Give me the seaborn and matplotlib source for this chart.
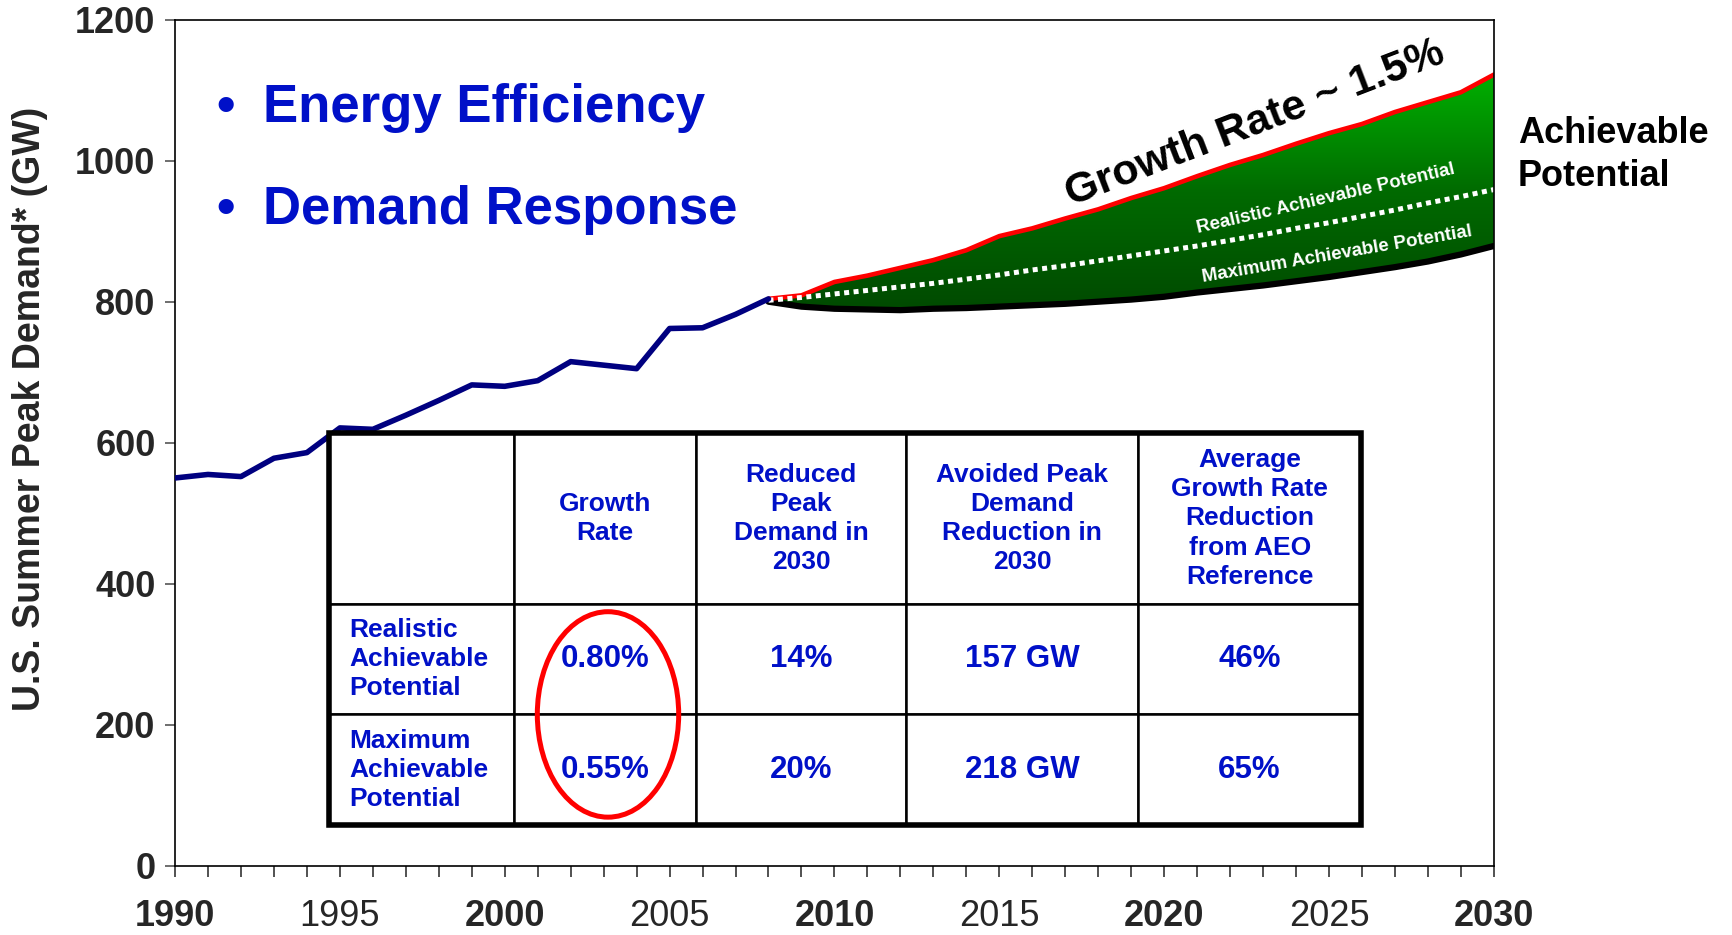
import numpy as np
import pandas as pd
import matplotlib
matplotlib.use('Agg')
import matplotlib.pyplot as plt
import seaborn as sns
from matplotlib.colors import LinearSegmentedColormap
from matplotlib.patches import Ellipse, Rectangle
from matplotlib.ticker import MultipleLocator

# ---------------- data ----------------
hist_years = list(range(1990, 2009))
hist_demand = [550, 555, 552, 578, 586, 621, 619, 639, 660, 682, 680, 688,
               715, 710, 705, 762, 763, 782, 804]

proj_years = list(range(2008, 2031))
reference_demand = [804, 809, 828, 837, 848, 859, 873, 893, 904, 918, 931, 947,
                    961, 978, 994, 1008, 1024, 1039, 1052, 1069, 1083, 1097, 1122]
realistic_demand = [802, 806, 811, 816, 821, 826, 832, 838, 845, 851, 858, 865,
                    872, 879, 887, 895, 904, 912, 921, 930, 940, 949, 959]
maximum_demand = [800, 793, 790, 789, 788, 790, 791, 793, 795, 797, 800, 803,
                  807, 813, 818, 823, 829, 835, 842, 849, 857, 867, 879]

y_ticks = [0, 200, 400, 600, 800, 1000, 1200]
x_ticks = [1990, 1995, 2000, 2005, 2010, 2015, 2020, 2025, 2030]

table_header = ['', 'Growth\nRate', 'Reduced\nPeak\nDemand in\n2030',
                'Avoided Peak\nDemand\nReduction in\n2030',
                'Average\nGrowth Rate\nReduction\nfrom AEO\nReference']
row_labels = ['Realistic\nAchievable\nPotential', 'Maximum\nAchievable\nPotential']
growth_rate = ['0.80%', '0.55%']
reduced_peak = ['14%', '20%']
avoided_peak = ['157 GW', '218 GW']
avg_growth_reduction = ['46%', '65%']

# ---------------- style ----------------
sns.set_style('white')
plt.rcParams['font.family'] = ['Liberation Sans', 'DejaVu Sans']
BLUE = '#0010C8'

fig = plt.figure(figsize=(17.33, 9.35), dpi=100)
ax = fig.add_axes([0.101, 0.074, 0.761, 0.905])

# historical line
sns.lineplot(x=hist_years, y=hist_demand, ax=ax, color='#000080', lw=4.0,
             solid_capstyle='round', solid_joinstyle='round', zorder=3)

# green gradient area between reference and maximum
poly = ax.fill_between(proj_years, maximum_demand, reference_demand,
                       color='none', lw=0)
cmap = LinearSegmentedColormap.from_list('g', ['#004a00', '#006a00', '#00b000'])
grad = np.linspace(0, 1, 256).reshape(-1, 1)
im = ax.imshow(grad, extent=[2008, 2030, min(maximum_demand), max(reference_demand)],
               origin='lower', aspect='auto', cmap=cmap, zorder=1)
im.set_clip_path(poly.get_paths()[0], transform=ax.transData)

proj = pd.DataFrame({'year': proj_years, 'ref': reference_demand,
                     'real': realistic_demand, 'max': maximum_demand})
sns.lineplot(data=proj, x='year', y='max', ax=ax, color='black', lw=4.5, zorder=2)
sns.lineplot(data=proj, x='year', y='ref', ax=ax, color='#ff0000', lw=3.3, zorder=2)
sns.lineplot(data=proj, x='year', y='real', ax=ax, color='white', lw=3.6,
             linestyle=(0, (1.0, 0.9)), zorder=2)

ax.set_xlim(1990, 2030)
ax.set_ylim(0, 1200)
ax.set_xlabel('')
ax.set_ylabel('U.S. Summer Peak Demand* (GW)', fontsize=27, fontweight='bold')
ax.yaxis.set_label_coords(-0.096, 0.54)

ax.set_yticks(y_ticks)
ax.set_yticklabels([str(v) for v in y_ticks], fontsize=26, fontweight='bold')
ax.set_xticks(x_ticks)
ax.set_xticklabels([str(v) for v in x_ticks], fontsize=26)
for lab, v in zip(ax.get_xticklabels(), x_ticks):
    lab.set_fontweight('bold' if v % 10 == 0 else 'normal')
ax.xaxis.set_minor_locator(MultipleLocator(1))
ax.tick_params(axis='y', which='major', direction='out', length=7, width=1.2,
               color='#555555', pad=7, left=True)
ax.tick_params(axis='x', which='both', direction='out', length=8, width=1.2,
               color='#333333', bottom=True)
ax.tick_params(axis='x', which='major', pad=16)
for s in ax.spines.values():
    s.set_color('black')
    s.set_linewidth(1.2)

# bullet text
for ytxt, label in [(0.8955, 'Energy Efficiency'), (0.7755, 'Demand Response')]:
    ax.text(0.031, ytxt, '\u2022', transform=ax.transAxes, fontsize=38,
            fontweight='bold', color=BLUE, va='center', ha='left')
    ax.text(0.067, ytxt, label, transform=ax.transAxes, fontsize=38,
            fontweight='bold', color=BLUE, va='center', ha='left')

# annotations on the projection
ax.text(2022.75, 1053, 'Growth Rate ~ 1.5%', fontsize=31, fontweight='bold',
        rotation=21, ha='center', va='center', rotation_mode='anchor', color='black')
ax.text(2024.9, 946, 'Realistic Achievable Potential', fontsize=13.5,
        fontweight='bold', rotation=13, ha='center', va='center',
        rotation_mode='anchor', color='white')
ax.text(2025.25, 867, 'Maximum Achievable Potential', fontsize=13.5,
        fontweight='bold', rotation=9.7, ha='center', va='center',
        rotation_mode='anchor', color='white')

fig.text(0.876, 0.834, 'Achievable\nPotential', fontsize=26, fontweight='bold',
         ha='left', va='center', color='black', linespacing=1.3)

# table
cell_text = [table_header] + [[row_labels[i], growth_rate[i], reduced_peak[i],
                               avoided_peak[i], avg_growth_reduction[i]]
                              for i in range(2)]
col_w = [168, 165, 190, 210, 202]
col_w = [w / sum(col_w) for w in col_w]
row_h = [155, 100, 100]
tb = [0.1164, 0.0483, 0.783, 0.4634]
tbl = ax.table(cellText=cell_text, colWidths=col_w, bbox=tb, cellLoc='center',
               zorder=5)
tbl.auto_set_font_size(False)
for (r, c), cell in tbl.get_celld().items():
    cell.set_height(row_h[r] / sum(row_h))
    cell.set_linewidth(1.8)
    cell.set_edgecolor('black')
    cell.set_facecolor('white')
    t = cell.get_text()
    t.set_color(BLUE)
    t.set_fontweight('bold')
    t.set_linespacing(1.27)
    if r == 0 or c == 0:
        t.set_fontsize(19)
    else:
        t.set_fontsize(22.5)
    if c == 0 and r > 0:
        t.set_horizontalalignment('left')
        cell.PAD = 0.11
ax.add_patch(Rectangle((tb[0], tb[1]), tb[2], tb[3], transform=ax.transAxes,
                       fill=False, lw=4, ec='black', zorder=6, clip_on=False))
ax.add_patch(Ellipse((0.3283, 0.1789), 0.1072, 0.2428, transform=ax.transAxes,
                     fill=False, ec='#ff0000', lw=3.6, zorder=7))

fig.savefig('out.png', dpi=100)
